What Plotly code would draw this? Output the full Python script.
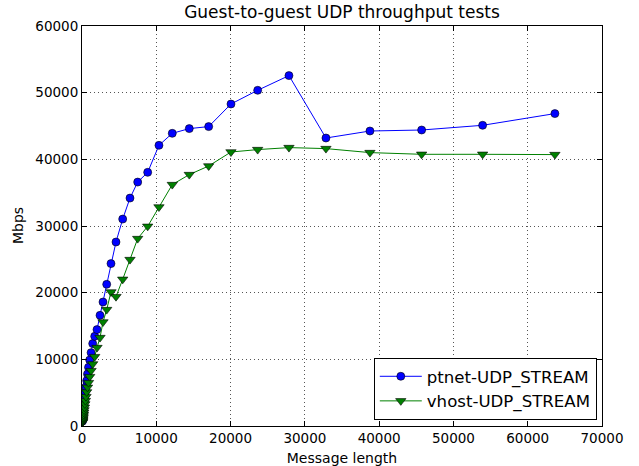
import plotly.graph_objects as go

# Message lengths
msg_len = [62, 73, 86, 102, 120, 142, 167, 197, 233, 275, 324, 383, 452, 533, 629,
           742, 876, 1034, 1220, 1440, 1709, 2019, 2423, 2826, 3324, 3903, 4576,
           5478, 6460, 7497, 8842, 10360, 12153, 14442, 17053, 20054, 23647,
           27860, 32840, 38762, 45720, 53930, 63660]

ptnet = [720, 850, 1000, 1200, 1400, 1650, 1950, 2300, 2700, 3200, 3800, 4400, 5100,
         5900, 6800, 7800, 8800, 9900, 11000, 12360, 13450, 14460, 16600, 18600,
         21250, 24360, 27600, 31040, 34190, 36590, 38050, 42100, 43900, 44610,
         44910, 48300, 50355, 52560, 43200, 44250, 44400, 45105, 46860]

vhost = [540, 640, 760, 900, 1050, 1250, 1500, 1750, 2050, 2400, 2800, 3300, 3800,
         4400, 5100, 5800, 6500, 7400, 8300, 9300, 10400, 11760, 13260, 15600,
         17460, 20100, 19400, 22000, 24960, 28110, 29950, 32850, 36210, 37710,
         39000, 41100, 41460, 41760, 41610, 41010, 40755, 40755, 40710]

x_ticks = [0, 10000, 20000, 30000, 40000, 50000, 60000, 70000]
y_ticks = [0, 10000, 20000, 30000, 40000, 50000, 60000]

fig = go.Figure()
fig.add_trace(go.Scatter(
    x=msg_len, y=ptnet, mode="lines+markers", name="ptnet-UDP_STREAM",
    line=dict(color="#0000ff", width=1),
    marker=dict(symbol="circle", size=8, color="#0000ff",
                line=dict(color="black", width=0.6)),
))
fig.add_trace(go.Scatter(
    x=msg_len, y=vhost, mode="lines+markers", name="vhost-UDP_STREAM",
    line=dict(color="#008000", width=1),
    marker=dict(symbol="triangle-down", size=9, color="#008000",
                line=dict(color="black", width=0.6)),
))

font = "DejaVu Sans"
axis_common = dict(
    showline=True, linecolor="black", linewidth=1, mirror="allticks",
    ticks="inside", ticklen=5, tickcolor="black", tickwidth=1,
    showgrid=True, gridcolor="#555555", gridwidth=1, griddash="1px,3px",
    zeroline=False, tickfont=dict(family=font, size=13.5, color="black"),
    automargin=False,
)

fig.update_layout(
    width=639, height=466,
    margin=dict(l=82, r=37, t=26, b=40),
    paper_bgcolor="white", plot_bgcolor="white",
    font=dict(family=font, color="black"),
    title=dict(text="Guest-to-guest UDP throughput tests", x=0.5, xanchor="center",
               xref="paper", y=1 - 12 / 466, yref="container", yanchor="middle",
               font=dict(family=font, size=17, color="black")),
    xaxis=dict(range=[0, 70000], tickvals=x_ticks, ticktext=[str(v) for v in x_ticks],
               title=dict(text="Message length", font=dict(family=font, size=14)),
               **axis_common),
    yaxis=dict(range=[0, 60000], tickvals=y_ticks, ticktext=[str(v) for v in y_ticks],
               **axis_common),
    legend=dict(x=0.99, y=0.015, xanchor="right", yanchor="bottom",
                bordercolor="black", borderwidth=1, bgcolor="white",
                font=dict(family=font, size=16.6, color="black"),
                itemwidth=42, tracegroupgap=2),
    showlegend=True,
    annotations=[dict(text="Mbps", textangle=-90, xref="paper", yref="paper",
                      x=0, y=0.5, xanchor="center", yanchor="middle",
                      xshift=-64, showarrow=False,
                      font=dict(family=font, size=14, color="black"))],
)

fig.write_html("out.html", config={"displayModeBar": False},
               post_script="document.body.style.margin='0';document.body.style.overflow='hidden';")
